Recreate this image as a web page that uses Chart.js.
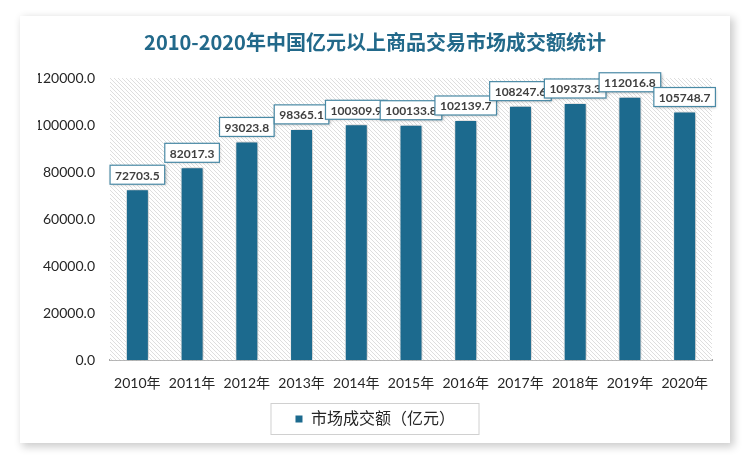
<!DOCTYPE html>
<html>
<head>
<meta charset="utf-8">
<script src="https://cdn.jsdelivr.net/npm/chart.js@4"></script>
<style>
  body { margin: 0; background: #ffffff; }
  #card {
    position: absolute; left: 20px; top: 16px; width: 710px; height: 427px;
    background: #fff; box-shadow: 3px 3px 8px 1px rgba(0,0,0,0.2);
  }
</style>
</head>
<body>
<div id="card"><canvas id="chart" width="710" height="427"></canvas></div>
<script>
const years = ["2010年", "2011年", "2012年", "2013年", "2014年", "2015年", "2016年", "2017年", "2018年", "2019年", "2020年"];
const turnover = [72703.5, 82017.3, 93023.8, 98365.1, 100309.9, 100133.8, 102139.7, 108247.6, 109373.3, 112016.8, 105748.7];
const seriesName = "市场成交额（亿元）";

const barColor = "#1c6a8e";
const font = 'Lato, "Noto Sans CJK SC", sans-serif';

// diagonal hatch for plot area
const makeHatch = (ctx) => {
  const c = document.createElement("canvas");
  c.width = 4; c.height = 4;
  const p = c.getContext("2d");
  p.fillStyle = "#ffffff";
  p.fillRect(0, 0, 4, 4);
  p.strokeStyle = "#dedede";
  p.lineWidth = 1;
  p.beginPath();
  p.moveTo(0, 0); p.lineTo(4, 4);
  p.moveTo(-2, 2); p.lineTo(2, 6);
  p.moveTo(2, -2); p.lineTo(6, 2);
  p.stroke();
  return ctx.createPattern(c, "repeat");
};

const hatchPlugin = {
  id: "hatch",
  beforeDatasetsDraw(chart) {
    const { ctx, chartArea: a } = chart;
    ctx.save();
    ctx.fillStyle = makeHatch(ctx);
    ctx.fillRect(a.left, a.top, a.right - a.left, a.bottom - a.top);
    ctx.restore();
    ctx.save();
    ctx.shadowColor = "rgba(0,0,0,0.35)";
    ctx.shadowBlur = 5;
    ctx.shadowOffsetX = 1;
    ctx.shadowOffsetY = 0;
  },
  afterDatasetsDraw(chart) {
    const { ctx } = chart;
    ctx.restore();
    const meta = chart.getDatasetMeta(0);
    ctx.save();
    ctx.font = "bold 12px " + font;
    ctx.textAlign = "center";
    ctx.textBaseline = "middle";
    meta.data.forEach((bar, i) => {
      const txt = turnover[i].toFixed(1);
      const w = ctx.measureText(txt).width + 10;
      const h = 19;
      const x = bar.x - w / 2;
      const y = bar.y - 5 - h;
      ctx.save();
      ctx.shadowColor = "rgba(0,0,0,0.3)";
      ctx.shadowBlur = 3;
      ctx.shadowOffsetX = 1;
      ctx.shadowOffsetY = 1;
      ctx.fillStyle = "#fff";
      ctx.fillRect(x, y, w, h);
      ctx.restore();
      ctx.strokeStyle = "#4a8aa6";
      ctx.lineWidth = 1.2;
      ctx.strokeRect(x, y, w, h);
      ctx.fillStyle = "#404040";
      ctx.fillText(txt, bar.x, y + h / 2 + 1);
    });
    ctx.restore();
  },
  afterDraw(chart) {
    const lg = chart.legend;
    if (!lg || !lg.legendHitBoxes.length) return;
    const hb = lg.legendHitBoxes[0];
    const { ctx } = chart;
    ctx.save();
    ctx.strokeStyle = "#d0d0d0";
    ctx.lineWidth = 1;
    ctx.strokeRect(hb.left - 24, hb.top + hb.height / 2 - 15.5, hb.width + 48, 31);
    ctx.restore();
  },
};

new Chart(document.getElementById("chart").getContext("2d"), {
  type: "bar",
  data: {
    labels: years,
    datasets: [
      {
        label: seriesName,
        data: turnover,
        backgroundColor: barColor,
        borderColor: "#ffffff",
        borderWidth: 1,
        barPercentage: 0.42,
        categoryPercentage: 1.0,
      },
    ],
  },
  options: {
    responsive: false,
    animation: false,
    layout: { padding: { left: 18, right: 18, top: 0, bottom: 6 } },
    scales: {
      x: {
        grid: { display: false, drawTicks: false },
        border: { color: "#a6a6a6", width: 2 },
        afterFit(s) { s.height = s.height - 3; },
        ticks: { color: "#262626", font: { family: font, size: 14 }, padding: 15, maxRotation: 0, autoSkip: false },
      },
      y: {
        min: 0,
        max: 120000,
        grid: { display: false, drawTicks: false },
        border: { display: false },
        afterFit(s) { s.width = 72; },
        ticks: {
          stepSize: 20000,
          color: "#262626",
          font: { family: font, size: 14 },
          padding: 15,
          callback: (v) => v.toFixed(1),
        },
      },
    },
    plugins: {
      title: {
        display: true,
        text: "2010-2020年中国亿元以上商品交易市场成交额统计",
        color: "#22698a",
        font: { family: '"Noto Sans CJK SC", sans-serif', size: 20, weight: "bold" },
        padding: { top: 14, bottom: 24 },
      },
      legend: {
        display: true,
        position: "bottom",
        labels: {
          boxWidth: 8,
          boxHeight: 8,
          color: "#262626",
          font: { family: font, size: 16 },
          padding: 7,
        },
      },
      tooltip: { enabled: false },
    },
  },
  plugins: [hatchPlugin],
});
</script>
</body>
</html>
